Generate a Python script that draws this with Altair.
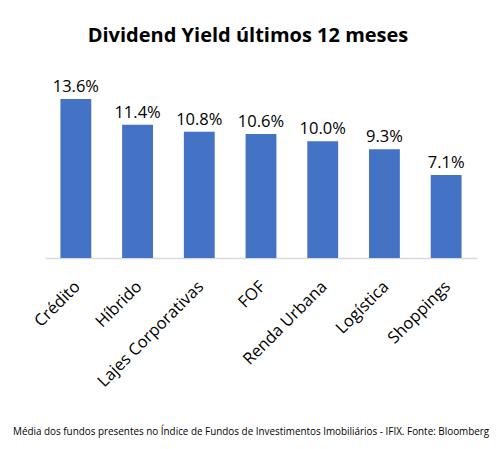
import altair as alt
import pandas as pd

categories = ["Crédito", "Híbrido", "Lajes Corporativas", "FOF", "Renda Urbana", "Logística", "Shoppings"]
values = [13.6, 11.4, 10.8, 10.6, 10.0, 9.3, 7.1]
labels = ["13.6%", "11.4%", "10.8%", "10.6%", "10.0%", "9.3%", "7.1%"]
footer = ["Média dos fundos presentes no Índice de Fundos de Investimentos Imobiliários - IFIX. Fonte: Bloomberg"]

df = pd.DataFrame({"cat": categories, "val": values, "lab": labels})

x = alt.X("cat:N", sort=categories, title=None,
          scale=alt.Scale(paddingInner=0.5, paddingOuter=0.25),
          axis=alt.Axis(labelAngle=-45, labelAlign="right", labelBaseline="top",
                        labelFont="Open Sans", labelFontSize=16.5, labelColor="#000000",
                        labelPadding=20, labelOffset=-4, ticks=False, domainColor="#D9D9D9",
                        domainWidth=1.5, labelOverlap=False))
y = alt.Y("val:Q", title=None, scale=alt.Scale(domain=[0, 16]), axis=None)

bars = alt.Chart(df).mark_bar(color="#4472C4").encode(x=x, y=y)
text = alt.Chart(df).mark_text(baseline="bottom", dy=-4, font="Open Sans", fontSize=16.5,
                               color="#000000").encode(x=x, y=y, text="lab:N")

foot = alt.Chart(pd.DataFrame({"t": footer})).mark_text(
    align="left", baseline="middle", font="Open Sans", fontSize=9.9, color="#000000"
).encode(x=alt.value(-32), y=alt.value(361), text="t:N")

chart = alt.layer(bars, text, foot).properties(
    width=432, height=187,
    title=alt.TitleParams("Dividend Yield últimos 12 meses", font="Open Sans", fontSize=20,
                          fontWeight="bold", color="#000000", anchor="middle", dx=-13, offset=25),
    autosize=alt.AutoSizeParams(type="none"),
    padding={"left": 37, "top": 63, "right": 18, "bottom": 183},
).configure_view(stroke=None)

chart.save("out.html", embed_options={"renderer": "svg", "actions": False})
